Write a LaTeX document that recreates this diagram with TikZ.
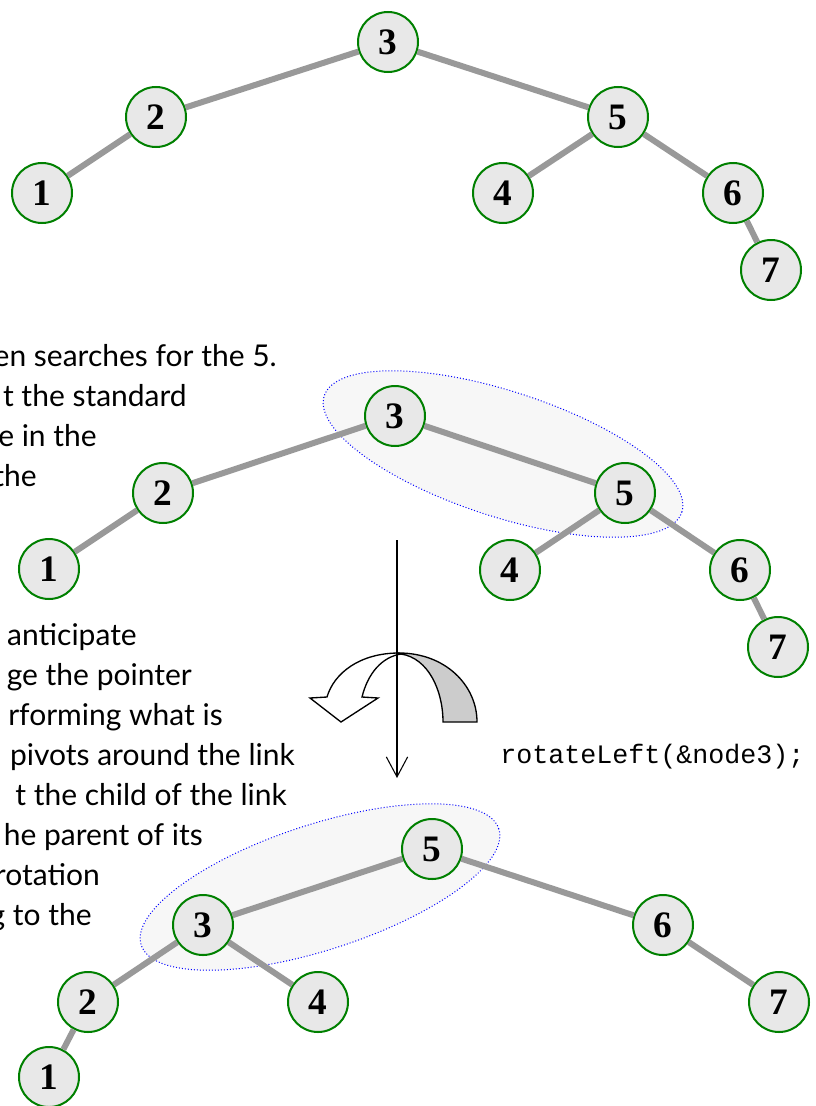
\documentclass[tikz,border=0pt]{standalone}
\usepackage{fontspec}
\setmainfont{Lato}
\setmonofont{Liberation Mono}
\newfontfamily\digitfont{Liberation Serif}
\usepackage{tikz}
\usetikzlibrary{positioning, arrows.meta, shapes.geometric}
\tikzset{
  tnode/.style={
    draw=green!50!black, circle, line width=1.5pt,
    minimum size=45pt, inner sep=0pt,
    fill=black!9, font=\digitfont\bfseries\fontsize{28}{28}\selectfont
  },
  edge/.style={line width=4.5pt, black!40},
  grp/.style={
    draw=blue, ellipse, line width=0.75pt,
    dash pattern=on 0.75pt off 1.5pt,
    fill=black!3, minimum width=282pt, minimum height=94pt
  },
  body/.style={anchor=base east, inner sep=0pt, font=\fontsize{22.5}{27}\selectfont},
  code/.style={anchor=base west, inner sep=0pt, font=\ttfamily\fontsize{20}{24}\selectfont},
  axis/.style={-{Straight Barb[length=15pt, width=16pt]}, line width=0.8pt},
}
\begin{document}
\begin{tikzpicture}[x=0.75pt, y=-0.75pt]
  \useasboundingbox (0,0) rectangle (816,1106);
  \clip (0,0) rectangle (816,1106);
  % text beside the trees
  \foreach \txt/\rx/\by in
    {en searches for the 5./277/366, t the standard/187/406,
     e in the/97/446, the/37/486,
     anticipate/137/645, ge the pointer/192/685,
     rforming what is/223/725, pivots around the link/295/765,
     t the child of the link/287/805, he parent of its/203/845,
     rotation/100/885, g to the/92/925}{
    \node[body] at (\rx, \by) {\txt};
  }
  % tree before
  \node[tnode] (a3) at (388, 42) {3};
  \node[tnode] (a2) at (156,117) {2};
  \node[tnode] (a5) at (618,117) {5};
  \node[tnode] (a1) at ( 42,193) {1};
  \node[tnode] (a4) at (503,193) {4};
  \node[tnode] (a6) at (733,193) {6};
  \node[tnode] (a7) at (771,270) {7};
  % tree with the link to rotate
  \node[grp, rotate=-18] (g1) at (503,454) {};
  \node[tnode] (b3) at (395,416) {3};
  \node[tnode] (b2) at (163,493) {2};
  \node[tnode] (b5) at (625,493) {5};
  \node[tnode] (b1) at ( 49,569) {1};
  \node[tnode] (b4) at (510,570) {4};
  \node[tnode] (b6) at (740,570) {6};
  \node[tnode] (b7) at (778,647) {7};
  % tree after
  \node[grp, rotate=18] (g2) at (320,887) {};
  \node[tnode] (c5) at (432,849) {5};
  \node[tnode] (c3) at (203,925) {3};
  \node[tnode] (c6) at (663,925) {6};
  \node[tnode] (c2) at ( 88,1002) {2};
  \node[tnode] (c4) at (318,1002) {4};
  \node[tnode] (c7) at (779,1002) {7};
  \node[tnode] (c1) at ( 49,1077) {1};
  \foreach \p/\c in {a3/a2, a2/a1, a3/a5, a5/a4, a5/a6, a6/a7,
                     b3/b2, b2/b1, b3/b5, b5/b4, b5/b6, b6/b7,
                     c5/c3, c3/c2, c2/c1, c3/c4, c5/c6, c6/c7}{
    \draw[edge] (\p) -- (\c);
  }
  % rotation sign
  \filldraw[fill=black!20, line width=1pt]
    (399,653) .. controls (445,653) and (477,685) .. (477,722)
    -- (443,722) .. controls (443,690) and (428,658) .. (401,654) -- cycle;
  \filldraw[fill=white, line width=1pt]
    (399,653) .. controls (360,653) and (334,673) .. (327,697)
    -- (310,698) -- (341,722) -- (378,698) -- (362,697)
    .. controls (368,673) and (382,657) .. (401,654) -- cycle;
  \coordinate (axtop) at (397,540);
  \coordinate (axbot) at (397,778);
  \draw[axis] (axtop) -- (axbot);
  \node[code] (call) at (500,763) {rotateLeft(\&node3);};
\end{tikzpicture}
\end{document}
